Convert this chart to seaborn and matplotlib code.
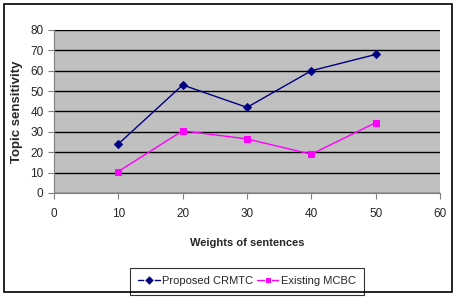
import matplotlib
matplotlib.use("Agg")
import matplotlib.pyplot as plt
import seaborn as sns
import pandas as pd
from matplotlib.patches import Rectangle

weights = [10, 20, 30, 40, 50]
proposed = [24, 53, 42, 60, 68]
existing = [10.5, 30.5, 26.5, 19, 34.5]
series_names = ["Proposed CRMTC", "Existing MCBC"]

sns.set_style("white")
plt.rcParams['font.family'] = ['Liberation Sans', 'DejaVu Sans']

df = pd.DataFrame({
    "w": weights * 2,
    "v": proposed + existing,
    "s": [series_names[0]] * 5 + [series_names[1]] * 5,
})

fig = plt.figure(figsize=(4.57, 3.0), dpi=100)
ax = fig.add_axes([0.118, 0.357, 0.845, 0.543])
ax.set_facecolor("#C0C0C0")

sns.lineplot(data=df, x="w", y="v", hue="s", style="s",
             palette={series_names[0]: "#000080", series_names[1]: "#FF00FF"},
             markers={series_names[0]: "D", series_names[1]: "s"},
             dashes=False, markersize=5, linewidth=1, ax=ax)
for line, c in zip(ax.lines[:2], ["#000080", "#FF00FF"]):
    line.set_markeredgecolor(c)
    line.set_markerfacecolor(c)
ax.lines[0].set_markersize(4)

ax.set_xlim(0, 60)
ax.set_ylim(0, 80)
ax.set_xticks(range(0, 61, 10))
ax.set_yticks(range(0, 81, 10))
ax.yaxis.grid(True, color="black", linewidth=1)
ax.set_axisbelow(True)
for side in ["top", "right"]:
    ax.spines[side].set_visible(False)
for side in ["left", "bottom"]:
    ax.spines[side].set_color("#808080")
ax.tick_params(axis="both", which="both", length=4, color="#808080",
               labelsize=8.5, direction="out", left=True, bottom=True)
ax.tick_params(axis="x", pad=7)
ax.set_xlabel("Weights of sentences", fontsize=8, fontweight="bold", labelpad=13)
ax.set_ylabel("Topic sensitivity", fontsize=9.5, fontweight="bold", labelpad=5)

leg = ax.legend(loc="upper center", bbox_to_anchor=(0.5, -0.46), ncol=2,
                fontsize=8, frameon=True, fancybox=False, edgecolor="black",
                handlelength=1.9, columnspacing=0.4, handletextpad=0.2,
                borderpad=0.75, borderaxespad=0)
leg.get_frame().set_linewidth(0.8)

fig.patches.append(Rectangle((0.009, 0.027), 0.98, 0.96, transform=fig.transFigure,
                             fill=False, edgecolor="black", linewidth=1.2))

fig.savefig("out.png", dpi=100)
